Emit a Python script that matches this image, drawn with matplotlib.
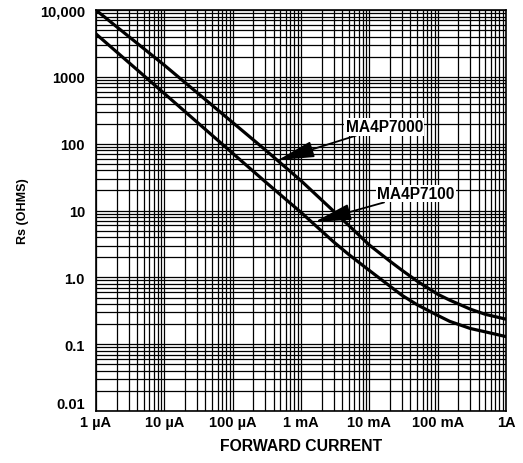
import matplotlib.pyplot as plt
import numpy as np
from matplotlib.ticker import LogLocator, NullFormatter

plt.rcParams['font.family'] = ['Liberation Sans', 'DejaVu Sans']

# forward current (A)
current = [1e-6, 1e-5, 1e-4, 3e-4, 1e-3, 3e-3, 5e-3, 1e-2, 2e-2, 3e-2,
           5e-2, 1e-1, 1.5e-1, 3e-1, 5e-1, 1.0]
# series resistance (ohms)
rs_7000 = [10000, 1500, 208, 81, 28, 9.8, 6.0, 3.05, 1.75, 1.28,
           0.88, 0.56, 0.457, 0.335, 0.28, 0.237]
rs_7100 = [4400, 565, 72, 27, 9.4, 3.4, 2.2, 1.27, 0.74, 0.54,
           0.39, 0.27, 0.22, 0.172, 0.153, 0.13]

x_ticks = [1e-6, 1e-5, 1e-4, 1e-3, 1e-2, 1e-1, 1.0]
x_labels = ["1 µA", "10 µA", "100 µA", "1 mA", "10 mA", "100 mA", "1A"]
y_ticks = [0.01, 0.1, 1, 10, 100, 1000, 10000]
y_labels = ["0.01", "0.1", "1.0", "10", "100", "1000", "10,000"]

fig = plt.figure(figsize=(5.23, 4.64), dpi=100)
ax = fig.add_axes([0.1836, 0.112, 0.7839, 0.864])

ax.loglog(current, rs_7000, color='black', lw=2.3, zorder=3)
ax.loglog(current, rs_7100, color='black', lw=2.3, zorder=3)

ax.set_xlim(1e-6, 1)
ax.set_ylim(0.01, 10000)
ax.xaxis.set_minor_locator(LogLocator(base=10, subs=np.arange(2, 10)))
ax.yaxis.set_minor_locator(LogLocator(base=10, subs=np.arange(2, 10)))
ax.xaxis.set_minor_formatter(NullFormatter())
ax.yaxis.set_minor_formatter(NullFormatter())
ax.grid(True, which='both', color='black', lw=0.9)

ax.set_xticks(x_ticks)
ax.set_xticklabels(x_labels, fontsize=10.5, fontweight='bold')
ax.set_yticks(y_ticks)
ax.set_yticklabels(y_labels, fontsize=10.5, fontweight='bold')
ax.get_yticklabels()[0].set_va('bottom')
ax.tick_params(axis='x', which='both', length=0, pad=3)
ax.tick_params(axis='y', which='both', length=0, pad=8)
for s in ax.spines.values():
    s.set_linewidth(1.2)

ax.set_xlabel("FORWARD CURRENT", fontsize=11.3, fontweight='bold', labelpad=6)
ax.set_ylabel("Rs (OHMS)", fontsize=9, fontweight='bold', labelpad=8)

arrow = dict(arrowstyle='-|>,head_length=2.0,head_width=0.45', color='black',
             lw=1.3, shrinkA=0, shrinkB=0)
box = dict(facecolor='white', edgecolor='none', pad=1)
ax.annotate("MA4P7000", xy=(4.6e-4, 57), xytext=(4.5e-3, 180),
            fontsize=11.2, fontweight='bold', va='center', ha='left',
            bbox=box, arrowprops=arrow, zorder=4)
ax.annotate("MA4P7100", xy=(1.6e-3, 6.8), xytext=(1.3e-2, 18),
            fontsize=11.2, fontweight='bold', va='center', ha='left',
            bbox=box, arrowprops=arrow, zorder=4)

fig.savefig("out.png", dpi=100)
